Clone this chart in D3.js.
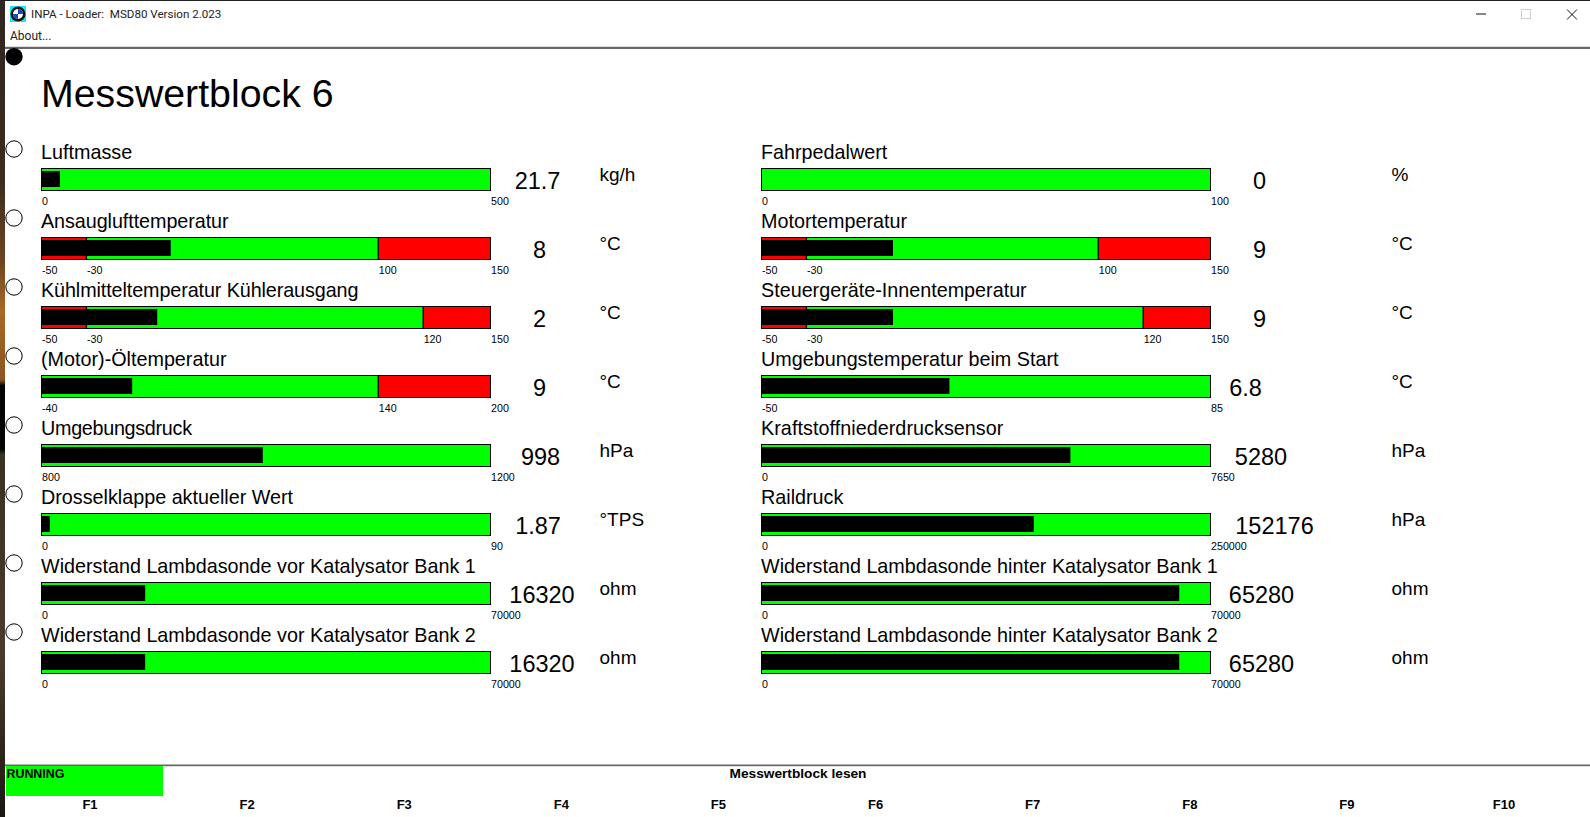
<!DOCTYPE html>
<html>
<head>
<meta charset="utf-8">
<script src="https://cdn.jsdelivr.net/npm/d3@7"></script>
<style>
  html, body { margin: 0; padding: 0; background: #fff; overflow: hidden; }
  svg { display: block; font-family: "Liberation Sans", Arial, sans-serif; }
</style>
</head>
<body>
<script>
// measurement rows, left column first, then right column
const labels = [
  "Luftmasse", "Ansauglufttemperatur", "Kühlmitteltemperatur Kühlerausgang", "(Motor)-Öltemperatur",
  "Umgebungsdruck", "Drosselklappe aktueller Wert", "Widerstand Lambdasonde vor Katalysator Bank 1", "Widerstand Lambdasonde vor Katalysator Bank 2",
  "Fahrpedalwert", "Motortemperatur", "Steuergeräte-Innentemperatur", "Umgebungstemperatur beim Start",
  "Kraftstoffniederdrucksensor", "Raildruck", "Widerstand Lambdasonde hinter Katalysator Bank 1", "Widerstand Lambdasonde hinter Katalysator Bank 2"
];
const values = [21.7, 8, 2, 9, 998, 1.87, 16320, 16320, 0, 9, 9, 6.8, 5280, 152176, 65280, 65280];
const valueText = ["21.7", "8", "2", "9", "998", "1.87", "16320", "16320", "0", "9", "9", "6.8", "5280", "152176", "65280", "65280"];
const units = ["kg/h", "°C", "°C", "°C", "hPa", "°TPS", "ohm", "ohm", "%", "°C", "°C", "°C", "hPa", "hPa", "ohm", "ohm"];
const mins = [0, -50, -50, -40, 800, 0, 0, 0, 0, -50, -50, -50, 0, 0, 0, 0];
const maxs = [500, 150, 150, 200, 1200, 90, 70000, 70000, 100, 150, 150, 85, 7650, 250000, 70000, 70000];
// red zone limits, null = no red zone on that side
const lowLimits = [null, -30, -30, null, null, null, null, null, null, -30, -30, null, null, null, null, null];
const highLimits = [null, 100, 120, 140, null, null, null, null, null, 100, 120, null, null, null, null, null];
const fKeys = ["F1", "F2", "F3", "F4", "F5", "F6", "F7", "F8", "F9", "F10"];

const width = 1590, height = 817;
const svg = d3.select("body").append("svg").attr("width", width).attr("height", height);
const blue = "#1446c8";

// window frame, desktop shows through on the left
svg.append("rect").attr("width", width).attr("height", height).attr("fill", "#fff");
const grad = svg.append("defs").append("linearGradient").attr("id", "desk").attr("x1", 0).attr("x2", 0).attr("y1", 0).attr("y2", 1);
[[0, "#2e2620"], [0.22, "#3d2c1f"], [0.32, "#6b4520"], [0.38, "#a86a24"], [0.465, "#8a5520"], [0.472, "#050505"], [0.55, "#050505"], [0.556, "#3a3024"], [0.8, "#4a3c2c"], [1, "#1c1612"]]
  .forEach(function(s) { grad.append("stop").attr("offset", s[0]).attr("stop-color", s[1]); });
svg.append("rect").attr("width", 5).attr("height", height).attr("fill", "url(#desk)");
svg.append("rect").attr("width", width).attr("height", 1).attr("fill", "#222");

// title bar
svg.append("rect").attr("x", 10).attr("y", 6).attr("width", 16).attr("height", 16).attr("fill", "#19e6f0");
svg.append("circle").attr("cx", 18).attr("cy", 14).attr("r", 7.5).attr("fill", "#111");
svg.append("circle").attr("cx", 18).attr("cy", 14).attr("r", 5).attr("fill", "#fff");
svg.append("path").attr("d", "M18 14V9A5 5 0 0 1 23 14ZM18 14V19A5 5 0 0 1 13 14Z").attr("fill", blue);
svg.append("text").attr("x", 31).attr("y", 18).attr("font-family", "Roboto, sans-serif").attr("font-size", 11.6).attr("fill", "#222")
  .text("INPA - Loader:  MSD80 Version 2.023").style("white-space", "pre");
svg.append("text").attr("x", 10).attr("y", 40).attr("font-family", "Roboto, sans-serif").attr("font-size", 12).attr("fill", "#222").text("About...");
svg.append("rect").attr("x", 5).attr("y", 46).attr("width", width - 5).attr("height", 1).attr("fill", "#ddd");
svg.append("rect").attr("x", 5).attr("y", 47).attr("width", width - 5).attr("height", 2).attr("fill", "#666");

// window buttons
svg.append("line").attr("x1", 1476).attr("x2", 1486).attr("y1", 14).attr("y2", 14).attr("stroke", "#111");
svg.append("rect").attr("x", 1521.5).attr("y", 9.5).attr("width", 9).attr("height", 9).attr("fill", "none").attr("stroke", "#ccc");
svg.append("path").attr("d", "M1567 9.5L1577 19.5M1577 9.5L1567 19.5").attr("stroke", "#111");

svg.append("circle").attr("cx", 14).attr("cy", 56.7).attr("r", 8.7).attr("fill", "#000");
svg.append("text").attr("x", 41).attr("y", 107).attr("font-size", 39.3).attr("fill", "#000").text("Messwertblock 6");

// one scale per row, column offset via the range
const barLeft = [41.5, 761.5], barW = 449, barH = 22;
const unitLeft = [599.5, 1391.5];
const rowY = d3.scaleLinear().domain([0, 1]).range([168.5, 237.5]);
// readouts are not quite centred in the program
const readoutNudge = { "21.7": -2, "1.87": -1.5, "998": 1, "16320": 2.5, "5280": 1.5, "65280": 2, "6.8": -14, "152176": 15 };
// labels that run a little narrower or wider than the default text
const labelFit = { "Ansauglufttemperatur": 187.6, "Kühlmitteltemperatur Kühlerausgang": 317.4, "Umgebungsdruck": 151, "Kraftstoffniederdrucksensor": 242.4 };

labels.forEach(function(label, i) {
  const col = i < 8 ? 0 : 1, row = i % 8;
  const y0 = rowY(row);
  const x = d3.scaleLinear().domain([mins[i], maxs[i]]).range([barLeft[col], barLeft[col] + barW]);
  const g = svg.append("g");

  if (col === 0) {
    g.append("circle").attr("cx", 14).attr("cy", y0 - 19.5).attr("r", 8.2).attr("fill", "#fff").attr("stroke", "#000").attr("stroke-width", 1);
  }
  const labelText = g.append("text").attr("x", barLeft[col] - 0.5).attr("y", y0 - 9.5).attr("font-size", 19.75).attr("fill", "#000").text(label);
  if (labelFit[label]) labelText.attr("textLength", labelFit[label]);

  // green background with red zones
  g.append("rect").attr("x", x(mins[i])).attr("y", y0).attr("width", barW).attr("height", barH).attr("fill", "#00ff00");
  if (lowLimits[i] !== null) {
    g.append("rect").attr("x", x(mins[i])).attr("y", y0).attr("width", x(lowLimits[i]) - x(mins[i])).attr("height", barH).attr("fill", "#ff0000");
    g.append("line").attr("x1", x(lowLimits[i])).attr("x2", x(lowLimits[i])).attr("y1", y0).attr("y2", y0 + barH).attr("stroke", "#000").attr("stroke-width", 1.3);
  }
  if (highLimits[i] !== null) {
    g.append("rect").attr("x", x(highLimits[i])).attr("y", y0).attr("width", x(maxs[i]) - x(highLimits[i])).attr("height", barH).attr("fill", "#ff0000");
    g.append("line").attr("x1", x(highLimits[i])).attr("x2", x(highLimits[i])).attr("y1", y0).attr("y2", y0 + barH).attr("stroke", "#000").attr("stroke-width", 1.3);
  }
  // measured value
  g.append("rect").attr("x", x(mins[i])).attr("y", y0 + 2.5).attr("width", Math.max(0, x(values[i]) - x(mins[i]) - 1)).attr("height", 16).attr("fill", "#000");
  g.append("rect").attr("x", x(mins[i])).attr("y", y0).attr("width", barW).attr("height", barH).attr("fill", "none").attr("stroke", "#000").attr("stroke-width", 1);

  // tick labels start at their tick
  const ticks = [mins[i], lowLimits[i], highLimits[i], maxs[i]].filter(function(t) { return t !== null; });
  const axis = g.append("g").attr("transform", "translate(0," + (y0 + barH) + ")")
    .call(d3.axisBottom(x).tickValues(ticks).tickSize(0).tickPadding(7).tickFormat(function(d) { return String(d); }));
  axis.select(".domain").remove();
  axis.selectAll("text").attr("text-anchor", "start").attr("font-size", 10.7).attr("font-family", "Liberation Sans, Arial, sans-serif").attr("fill", "#000");

  // readout and unit
  g.append("text").attr("x", barLeft[col] + 498 + (readoutNudge[valueText[i]] || 0)).attr("y", y0 + 20.5).attr("text-anchor", "middle")
    .attr("font-size", 23.5).attr("fill", "#000").text(valueText[i]);
  g.append("text").attr("x", unitLeft[col]).attr("y", y0 + 12.5).attr("font-size", 19).attr("fill", "#000").text(units[i]);
});

// footer
svg.append("rect").attr("x", 5).attr("y", 764.5).attr("width", width - 5).attr("height", 1.7).attr("fill", "#666");
svg.append("rect").attr("x", 6).attr("y", 766).attr("width", 157).attr("height", 30).attr("fill", "#00ff00");
svg.append("text").attr("x", 6.5).attr("y", 778).attr("font-size", 12.4).attr("font-weight", "bold").attr("fill", "#000").text("RUNNING");
svg.append("text").attr("x", 798).attr("y", 778).attr("text-anchor", "middle").attr("font-weight", "bold").attr("font-size", 13.7).attr("fill", "#000").text("Messwertblock lesen");

const fX = d3.scalePoint().domain(fKeys).range([90, 1504]);
svg.selectAll(".fkey").data(fKeys).join("text").attr("class", "fkey")
  .attr("x", function(d) { return fX(d); }).attr("y", 809).attr("text-anchor", "middle")
  .attr("font-weight", "bold").attr("font-size", 13).attr("fill", "#000").text(function(d) { return d; });
</script>
</body>
</html>
